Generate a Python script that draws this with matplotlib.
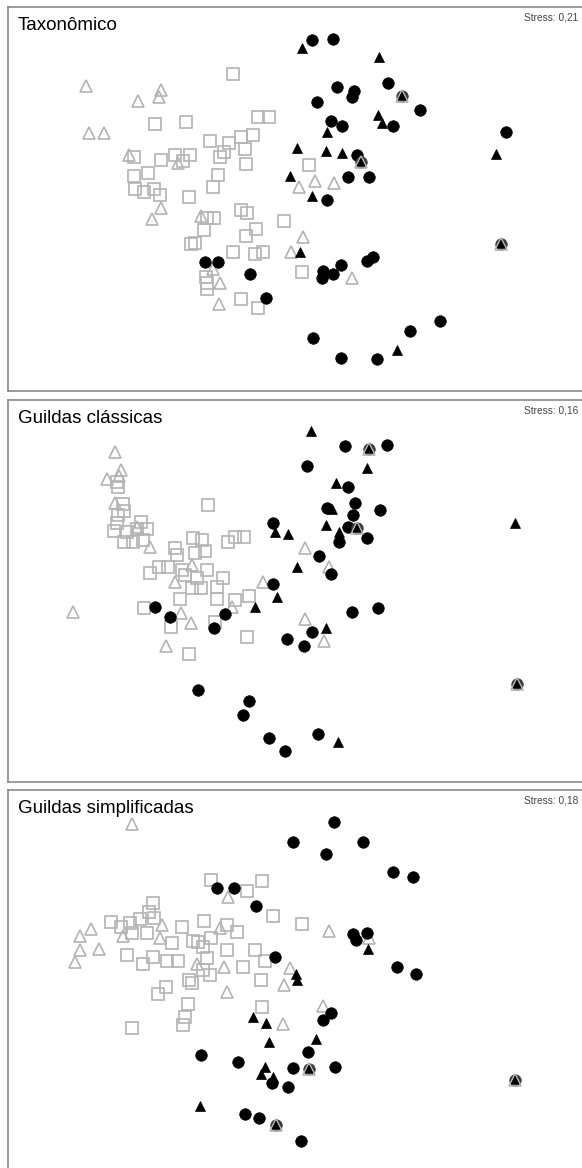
import matplotlib
matplotlib.use("Agg")
import matplotlib.pyplot as plt

# ---------------- data (NMDS scores, in picture units) -------------
panel_titles = ["Taxonômico", "Guildas clássicas", "Guildas simplificadas"]
stress_labels = ["Stress: 0,21", "Stress: 0,16", "Stress: 0,18"]

# Panel 1 - Taxonômico
tax_open_tri = [(86, 86), (138, 101), (161, 90), (159, 97), (89, 133), (104, 133), (129, 155),
                (178, 163), (161, 208), (152, 219), (201, 216), (291, 252), (213, 269), (220, 283),
                (219, 304), (299, 187), (315, 181), (334, 183), (303, 237), (352, 278)]
tax_open_sq = [(233, 74), (258, 117), (269, 117), (155, 124), (186, 122), (210, 141), (229, 143),
               (241, 137), (253, 135), (245, 149), (224, 152), (220, 157), (246, 164), (134, 157),
               (161, 160), (175, 155), (183, 161), (190, 155), (134, 176), (148, 173), (218, 175),
               (213, 187), (135, 189), (144, 192), (154, 189), (160, 195), (189, 197), (207, 218),
               (214, 218), (241, 210), (247, 213), (284, 221), (204, 230), (256, 229), (246, 236),
               (191, 244), (195, 243), (233, 252), (255, 254), (263, 252), (206, 277), (207, 283),
               (207, 289), (241, 299), (258, 308), (309, 165), (302, 272)]
tax_circle = [(312, 40), (333, 39), (388, 83), (337, 87), (354, 91), (352, 97), (317, 102),
              (420, 110), (393, 126), (331, 121), (342, 126), (506, 132), (357, 155), (348, 177),
              (369, 177), (327, 200), (205, 262), (218, 262), (250, 274), (266, 298), (323, 271),
              (322, 278), (333, 274), (341, 265), (367, 261), (373, 257), (313, 338), (341, 358),
              (377, 359), (410, 331), (440, 321)]
tax_tri = [(302, 48), (379, 57), (378, 115), (382, 123), (327, 132), (297, 148), (326, 151),
           (342, 153), (496, 154), (290, 176), (312, 196), (300, 252), (397, 350)]
tax_mixed = [(402, 96), (361, 162), (501, 244)]

# Panel 2 - Guildas clássicas
gc_open_tri = [(115, 452), (121, 470), (107, 479), (119, 476), (115, 503), (137, 527), (150, 547),
               (192, 565), (175, 582), (263, 582), (73, 612), (181, 613), (191, 623), (232, 607),
               (166, 646), (305, 548), (329, 567), (305, 619), (324, 641)]
gc_open_sq = [(117, 482), (118, 487), (208, 505), (123, 504), (124, 511), (118, 515), (117, 523),
              (141, 522), (147, 529), (114, 531), (127, 532), (137, 529), (124, 542), (133, 542),
              (143, 540), (193, 538), (202, 540), (205, 551), (195, 553), (228, 542), (235, 537),
              (244, 537), (175, 548), (177, 555), (150, 573), (159, 567), (168, 567), (182, 570),
              (185, 575), (197, 578), (207, 570), (223, 578), (180, 599), (192, 588), (201, 588),
              (217, 599), (235, 600), (249, 596), (217, 587), (144, 608), (171, 627), (215, 622),
              (189, 654), (247, 637)]
gc_circle = [(345, 446), (387, 445), (307, 466), (348, 487), (355, 503), (327, 508), (380, 510),
             (353, 515), (348, 527), (339, 542), (367, 538), (319, 556), (331, 574), (273, 523),
             (273, 584), (155, 607), (170, 617), (225, 614), (214, 628), (287, 639), (198, 690),
             (249, 701), (243, 715), (269, 738), (285, 751), (312, 632), (304, 646), (352, 612),
             (378, 608), (318, 734)]
gc_tri = [(311, 431), (367, 468), (336, 483), (332, 509), (326, 525), (339, 532), (275, 532),
          (288, 534), (515, 523), (297, 567), (255, 607), (277, 597), (326, 628), (338, 742)]
gc_mixed = [(369, 449), (357, 528), (517, 684)]

# Panel 3 - Guildas simplificadas
gs_open_tri = [(132, 824), (228, 897), (91, 929), (80, 936), (123, 936), (162, 925), (160, 938),
               (220, 928), (80, 950), (99, 949), (75, 962), (197, 964), (224, 967), (290, 968),
               (329, 931), (369, 938), (227, 992), (284, 985), (283, 1024), (323, 1006)]
gs_open_sq = [(211, 880), (262, 881), (247, 891), (273, 916), (153, 903), (149, 912), (154, 918),
              (111, 922), (121, 927), (130, 923), (140, 919), (132, 933), (147, 933), (182, 927),
              (204, 921), (227, 925), (237, 932), (172, 943), (193, 941), (198, 942), (203, 947),
              (211, 938), (127, 955), (143, 964), (153, 957), (167, 961), (178, 961), (227, 950),
              (255, 950), (265, 961), (243, 967), (207, 958), (302, 924), (203, 970), (210, 975),
              (189, 980), (192, 983), (166, 987), (158, 994), (188, 1004), (185, 1017), (183, 1025),
              (132, 1028), (261, 980), (262, 1007)]
gs_circle = [(293, 842), (217, 888), (234, 888), (256, 906), (275, 957), (334, 822), (363, 842),
             (326, 854), (393, 872), (413, 877), (353, 934), (356, 940), (367, 933), (397, 967),
             (416, 974), (201, 1055), (238, 1062), (272, 1083), (288, 1087), (293, 1068), (245, 1114),
             (259, 1118), (331, 1013), (323, 1020), (308, 1052), (335, 1067), (301, 1141)]
gs_tri = [(368, 949), (296, 974), (297, 980), (253, 1017), (266, 1023), (269, 1042), (265, 1067),
          (261, 1074), (273, 1077), (200, 1106), (316, 1039)]
gs_mixed = [(276, 1125), (309, 1069), (515, 1080)]

# ---------------- layout / style ----------------
W, H = 582, 1168
panel_rows = [(7, 391), (400, 782), (790, 1169)]   # top, bottom in picture units
x_range = (8, 583)
GRAY = "#b3b3b3"
FRAME = "#808080"

groups = [
    (tax_open_tri, tax_open_sq, tax_circle, tax_tri, tax_mixed),
    (gc_open_tri, gc_open_sq, gc_circle, gc_tri, gc_mixed),
    (gs_open_tri, gs_open_sq, gs_circle, gs_tri, gs_mixed),
]

fig = plt.figure(figsize=(W / 100, H / 100), dpi=100)
fig.patch.set_facecolor("white")


def xy(pts):
    return [p[0] for p in pts], [p[1] for p in pts]


for i, (top, bottom) in enumerate(panel_rows):
    ax = fig.add_axes([x_range[0] / W, 1 - bottom / H,
                       (x_range[1] - x_range[0]) / W, (bottom - top) / H])
    ax.set_xlim(*x_range)
    ax.set_ylim(bottom, top)
    ax.set_xticks([])
    ax.set_yticks([])
    for s in ax.spines.values():
        s.set_color(FRAME)
        s.set_linewidth(1.1)

    otri, osq, circ, tri, mixed = groups[i]
    x, y = xy(osq)
    ax.plot(x, y, "s", ms=8, mfc="none", mec=GRAY, mew=1.2, ls="none")
    x, y = xy(otri)
    ax.plot(x, y, "^", ms=8.5, mfc="none", mec=GRAY, mew=1.2, ls="none")
    x, y = xy(circ)
    ax.plot(x, y, "o", ms=8.3, mfc="black", mec="black", mew=0.5, ls="none")
    x, y = xy(tri)
    ax.plot(x, y, "^", ms=7, mfc="black", mec="black", mew=0.5, ls="none")
    x, y = xy(mixed)
    ax.plot(x, y, "o", ms=8.3, mfc="#3a3a3a", mec="#3a3a3a", mew=0.5, ls="none")
    ax.plot(x, y, "^", ms=8.5, mfc="none", mec=GRAY, mew=1.2, ls="none")
    ax.plot(x, y, "^", ms=5.5, mfc="black", mec="black", mew=0.3, ls="none")

    ax.text(18, top + 23, panel_titles[i], fontsize=13.5, family="Liberation Sans",
            ha="left", va="baseline", color="black")
    ax.text(578, top + 13.5, stress_labels[i], fontsize=7.3, family="Liberation Sans",
            ha="right", va="baseline", color="#444444")

fig.savefig("out.png", dpi=100, facecolor="white")
